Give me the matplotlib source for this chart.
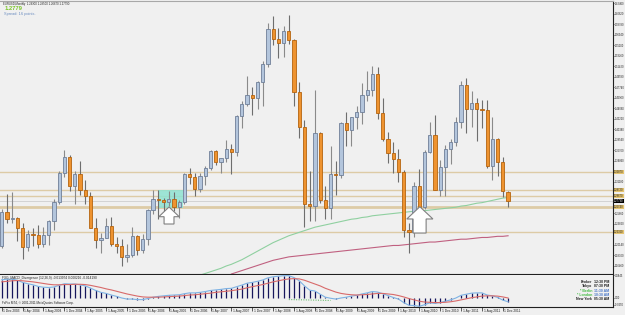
import matplotlib
matplotlib.use("Agg")
import matplotlib.pyplot as plt
from matplotlib.patches import Rectangle, Polygon

# ── données : EURUSD mensuel, déc 2003 -> jan 2012 ─────────────
opens = [1.1990, 1.2595, 1.2465, 1.2475, 1.2300, 1.1970, 1.2200, 1.2175, 1.2025, 1.2175, 1.2420, 1.2765, 1.3265,
         1.3555, 1.3045, 1.3255, 1.2965, 1.2870, 1.2305, 1.2100, 1.2125, 1.2340, 1.2025, 1.1990, 1.1790,
         1.1840, 1.2160, 1.1925, 1.2115, 1.2625, 1.2810, 1.2790, 1.2765, 1.2815, 1.2675, 1.2760, 1.3245,
         1.3195, 1.2990, 1.3225, 1.3355, 1.3650, 1.3455, 1.3540, 1.3690, 1.3640, 1.4265, 1.4485, 1.4630,
         1.4590, 1.4860, 1.5185, 1.5785, 1.5610, 1.5550, 1.5750, 1.5600, 1.4680, 1.4075, 1.2725, 1.2700,
         1.3975, 1.2800, 1.2660, 1.3250, 1.3230, 1.4150, 1.4030, 1.4250, 1.4330, 1.4640, 1.4720, 1.5010,
         1.4325, 1.3865, 1.3625, 1.3510, 1.3295, 1.2270, 1.2235, 1.3050, 1.2680, 1.3630, 1.3940, 1.2980,
         1.3380, 1.3690, 1.3805, 1.4160, 1.4805, 1.4395, 1.4500, 1.4390, 1.4375, 1.3385, 1.3865, 1.3455,
         1.2930]
highs = [1.2647, 1.2898, 1.2930, 1.2495, 1.2385, 1.2275, 1.2305, 1.2355, 1.2315, 1.2440, 1.2810, 1.3310, 1.3667,
         1.3580, 1.3300, 1.3480, 1.3140, 1.2935, 1.2475, 1.2225, 1.2480, 1.2500, 1.2155, 1.2115, 1.2030,
         1.2325, 1.2185, 1.2195, 1.2635, 1.2980, 1.2975, 1.2825, 1.2950, 1.2940, 1.2795, 1.3270, 1.3365,
         1.3270, 1.3270, 1.3385, 1.3680, 1.3680, 1.3535, 1.3850, 1.3785, 1.4280, 1.4530, 1.4965, 1.4770,
         1.4875, 1.5240, 1.5905, 1.6020, 1.5815, 1.5845, 1.6038, 1.5625, 1.4865, 1.4195, 1.3300, 1.4720,
         1.3990, 1.3050, 1.3740, 1.3485, 1.4165, 1.4340, 1.4255, 1.4445, 1.4845, 1.5060, 1.5145, 1.5135,
         1.4580, 1.3990, 1.3820, 1.3690, 1.3320, 1.2385, 1.3110, 1.3335, 1.3665, 1.4160, 1.4280, 1.3500,
         1.3760, 1.3860, 1.4250, 1.4880, 1.4940, 1.4700, 1.4580, 1.4550, 1.4550, 1.4245, 1.3875, 1.3550,
         1.2950]
lows = [1.1960, 1.2385, 1.2385, 1.2085, 1.1760, 1.1905, 1.1990, 1.1950, 1.1965, 1.2005, 1.2265, 1.2730, 1.3200,
        1.2955, 1.2735, 1.2880, 1.2735, 1.2300, 1.1950, 1.1870, 1.2125, 1.1985, 1.1870, 1.1640, 1.1710,
        1.1800, 1.1825, 1.1865, 1.2005, 1.2550, 1.2455, 1.2455, 1.2700, 1.2610, 1.2485, 1.2720, 1.3080,
        1.2865, 1.2935, 1.3055, 1.3330, 1.3405, 1.3265, 1.3470, 1.3260, 1.3570, 1.4055, 1.4440, 1.4290,
        1.4395, 1.4440, 1.5135, 1.5520, 1.5285, 1.5300, 1.5525, 1.4435, 1.3880, 1.2330, 1.2420, 1.2435,
        1.2745, 1.2455, 1.2455, 1.2890, 1.3180, 1.3745, 1.3750, 1.4045, 1.4130, 1.4530, 1.4615, 1.4215,
        1.3835, 1.3445, 1.3270, 1.3115, 1.2140, 1.1876, 1.2150, 1.2590, 1.2640, 1.3620, 1.2965, 1.2860,
        1.2860, 1.3430, 1.3750, 1.4055, 1.3965, 1.4070, 1.3835, 1.4050, 1.3360, 1.3145, 1.3210, 1.2855,
        1.2667]
closes = [1.2595, 1.2465, 1.2475, 1.2300, 1.1970, 1.2200, 1.2175, 1.2025, 1.2175, 1.2420, 1.2765, 1.3265, 1.3555,
          1.3045, 1.3255, 1.2965, 1.2870, 1.2305, 1.2100, 1.2125, 1.2340, 1.2025, 1.1990, 1.1790, 1.1840,
          1.2160, 1.1925, 1.2115, 1.2625, 1.2810, 1.2790, 1.2765, 1.2815, 1.2675, 1.2760, 1.3245, 1.3195,
          1.2990, 1.3225, 1.3355, 1.3650, 1.3455, 1.3540, 1.3690, 1.3640, 1.4265, 1.4485, 1.4630, 1.4590,
          1.4860, 1.5185, 1.5785, 1.5610, 1.5550, 1.5750, 1.5600, 1.4680, 1.4075, 1.2725, 1.2700, 1.3975,
          1.2800, 1.2660, 1.3250, 1.3230, 1.4150, 1.4030, 1.4250, 1.4330, 1.4640, 1.4720, 1.5010, 1.4325,
          1.3865, 1.3625, 1.3510, 1.3295, 1.2270, 1.2235, 1.3050, 1.2680, 1.3630, 1.3940, 1.2980, 1.3380,
          1.3690, 1.3805, 1.4160, 1.4805, 1.4395, 1.4500, 1.4390, 1.4375, 1.3385, 1.3865, 1.3455, 1.2960,
          1.2779]

# moyennes mobiles, à partir d'un indice de mois
ma_green_start = 36
ma_green = [1.136, 1.145, 1.148, 1.151, 1.154, 1.157, 1.160, 1.164, 1.167, 1.171, 1.175, 1.180, 1.185, 1.190,
            1.195, 1.200, 1.205, 1.209, 1.213, 1.217, 1.220, 1.223, 1.226, 1.229, 1.232, 1.234, 1.236, 1.238,
            1.240, 1.242, 1.244, 1.246, 1.247, 1.249, 1.250, 1.252, 1.253, 1.254, 1.255, 1.256, 1.257, 1.258,
            1.259, 1.260, 1.260, 1.261, 1.262, 1.263, 1.264, 1.265, 1.266, 1.267, 1.269, 1.270, 1.272, 1.274,
            1.275, 1.277, 1.279, 1.281, 1.283, 1.284]
ma_red_start = 44
ma_red = [1.150, 1.153, 1.156, 1.159, 1.162, 1.165, 1.168, 1.171, 1.174, 1.176, 1.178, 1.180, 1.181, 1.182,
          1.183, 1.184, 1.185, 1.186, 1.187, 1.188, 1.189, 1.190, 1.191, 1.192, 1.193, 1.194, 1.195, 1.196,
          1.197, 1.198, 1.199, 1.200, 1.200, 1.201, 1.202, 1.203, 1.204, 1.205, 1.206, 1.206, 1.207, 1.208,
          1.209, 1.210, 1.211, 1.211, 1.212, 1.213, 1.214, 1.214, 1.215, 1.216, 1.216, 1.217]

# niveaux horizontaux tracés
levels = [1.3287, 1.2972, 1.2867, 1.2674, 1.2236]
level_widths = [1, 1, 1, 2, 1]
bid = 1.2779

# indicateur MACD
macd = [0.068, 0.070, 0.070, 0.066, 0.058, 0.053, 0.049, 0.043, 0.040, 0.039, 0.041, 0.047, 0.053,
        0.052, 0.052, 0.049, 0.045, 0.037, 0.028, 0.021, 0.017, 0.011, 0.006, 0.000, -0.004,
        -0.004, -0.006, -0.006, -0.002, 0.003, 0.006, 0.008, 0.010, 0.011, 0.012, 0.016, 0.019,
        0.019, 0.021, 0.024, 0.028, 0.030, 0.032, 0.035, 0.036, 0.042, 0.048, 0.055, 0.058,
        0.062, 0.067, 0.075, 0.079, 0.081, 0.083, 0.083, 0.076, 0.064, 0.045, 0.029, 0.026,
        0.014, 0.003, -0.001, -0.004, 0.000, 0.003, 0.007, 0.010, 0.015, 0.019, 0.024, 0.022,
        0.016, 0.009, 0.002, -0.004, -0.017, -0.027, -0.028, -0.031, -0.025, -0.018, -0.020, -0.017,
        -0.012, -0.007, 0.000, 0.010, 0.014, 0.018, 0.019, 0.019, 0.011, 0.008, 0.002, -0.008,
        -0.014]
signal = [0.060, 0.062, 0.064, 0.065, 0.064, 0.062, 0.060, 0.057, 0.054, 0.051, 0.049, 0.049, 0.050,
          0.050, 0.051, 0.051, 0.050, 0.047, 0.043, 0.039, 0.034, 0.030, 0.025, 0.020, 0.015,
          0.011, 0.007, 0.004, 0.003, 0.003, 0.003, 0.004, 0.005, 0.006, 0.007, 0.009, 0.011,
          0.012, 0.014, 0.016, 0.018, 0.021, 0.023, 0.025, 0.027, 0.030, 0.033, 0.038, 0.042,
          0.046, 0.050, 0.055, 0.060, 0.064, 0.068, 0.071, 0.072, 0.071, 0.066, 0.059, 0.052,
          0.045, 0.036, 0.029, 0.022, 0.017, 0.014, 0.012, 0.011, 0.012, 0.013, 0.015, 0.017,
          0.017, 0.015, 0.013, 0.009, 0.004, -0.002, -0.007, -0.012, -0.015, -0.016, -0.017, -0.017,
          -0.016, -0.014, -0.011, -0.007, -0.003, 0.001, 0.004, 0.007, 0.008, 0.008, 0.007, 0.004,
          0.000]
# ligne de divergence (pointillés verts)
div_x = [55, 63]
div_y = [-0.006, -0.009]

price_ticks = [1.6246, 1.6062, 1.5878, 1.5694, 1.5510, 1.5326, 1.5142, 1.4958, 1.4774, 1.4590, 1.4406,
               1.4222, 1.4038, 1.3854, 1.3670, 1.3486, 1.3302, 1.3118, 1.2934, 1.2750, 1.2566, 1.2382,
               1.2198, 1.2014, 1.1830, 1.1646]
ind_ticks = [0.0845, 0.0, -0.0250]
ind_labels = ["0.0845", "0.00", "-0.0250"]
time_labels = ["1 Dec 2003", "1 Apr 2004", "1 Aug 2004", "1 Dec 2004", "1 Apr 2005", "1 Aug 2005",
               "1 Dec 2005", "1 Apr 2006", "1 Aug 2006", "1 Dec 2006", "1 Apr 2007", "1 Aug 2007",
               "1 Dec 2007", "1 Apr 2008", "1 Aug 2008", "1 Dec 2008", "1 Apr 2009", "1 Aug 2009",
               "1 Dec 2009", "1 Apr 2010", "1 Aug 2010", "1 Dec 2010", "1 Apr 2011", "1 Aug 2011",
               "1 Dec 2011"]
clock_names = ["Broker", "Tokyo", "* Berlin", "* London", "New York"]
clock_times = ["12:30 PM", "07:30 PM", "11:30 AM", "10:30 AM", "05:30 AM"]

# ── figure ────────────────────────────────────────────────
W, H = 625, 315
BG = "#F0F0F0"
TXT = "#202020"
FS_AX = 1.9
plt.rcParams['font.family'] = ['Liberation Sans', 'DejaVu Sans']
fig = plt.figure(figsize=(W / 100, H / 100), dpi=100, facecolor=BG)


def box(x0, y0, x1, y1):
    return [x0 / W, 1 - y1 / H, (x1 - x0) / W, (y1 - y0) / H]


ax = fig.add_axes(box(0, 1, 613, 274), facecolor=BG)
ax2 = fig.add_axes(box(0, 275, 613, 307), facecolor=BG, sharex=ax)
n = len(closes)
idx = list(range(n))
ax.set_xlim(-0.33, 117.1)
ax.set_ylim(1.1500, 1.6283)

# niveaux
for lv, lw in zip(levels, level_widths):
    ax.axhline(lv, color="#DDCBA6", lw=lw, zorder=1)
ax.axhline(bid, color="#D3D3D3", lw=0.7, zorder=1)

# rectangle + flèches
ax.add_patch(Rectangle((30.0, 1.2656), 4.8, 0.0316, facecolor="#8FE3D2", edgecolor="none",
                       alpha=0.85, zorder=1.5))
for (xa, xb, sa, sb, tip, base, bot) in [(30.1, 34.0, 31.1, 33.0, 1.2674, 1.2504, 1.2376),
                                         (77.6, 82.6, 78.8, 81.3, 1.2679, 1.2464, 1.2218)]:
    xm = (xa + xb) / 2
    pts = [(xm, tip), (xb, base), (sb, base), (sb, bot), (sa, bot), (sa, base), (xa, base)]
    ax.add_patch(Polygon(pts, closed=True, facecolor="white", edgecolor="#808080", lw=0.8, zorder=4))

# moyennes mobiles
ax.plot(range(ma_green_start, ma_green_start + len(ma_green)), ma_green, color="#8FD0A0", lw=0.8, zorder=2)
ax.plot(range(ma_red_start, ma_red_start + len(ma_red)), ma_red, color="#C06080", lw=0.8, zorder=2)

# bougies
for i, o, h, l, c in zip(idx, opens, highs, lows, closes):
    up = c >= o
    ax.vlines(i, l, h, color="#8A8A8A" if up else "#6E6E6E", lw=0.8, zorder=3)
    ax.bar(i, abs(c - o), bottom=min(o, c), width=0.62,
           color="#B3C5DC" if up else "#EE9330",
           edgecolor="#6F7F98" if up else "#B5640F", lw=0.6, zorder=3.5)

# axes (style MT4)
for a in (ax, ax2):
    a.spines["left"].set_visible(False)
    for s in ("right", "bottom"):
        a.spines[s].set_color(TXT)
        a.spines[s].set_linewidth(0.8)
    a.yaxis.tick_right()
    a.tick_params(axis="y", direction="out", length=1.0, width=0.5, colors=TXT,
                  labelsize=FS_AX, pad=0.3)
ax.spines["top"].set_color("#A8A8A8")
ax2.spines["top"].set_visible(False)
ax.tick_params(axis="x", bottom=False, labelbottom=False)


def ypix(p):
    return 201 - (p - bid) / 0.001752


marked = levels + [bid]
shown = [p for p in price_ticks if min(abs(ypix(p) - ypix(m)) for m in marked) > 4]
ax.set_yticks(shown)
ax.set_yticklabels([f"{p:.5f}" for p in shown])

ytr = ax.get_yaxis_transform()
for lv in levels:
    ax.text(1.002, lv, f"{lv:.5f}", transform=ytr, fontsize=FS_AX, va="center", ha="left",
            color=TXT, bbox=dict(boxstyle="square,pad=0.15", fc="#E4C36E", ec="none"), zorder=6)
ax.text(1.002, bid, f"{bid:.5f}", transform=ytr, fontsize=FS_AX, va="center", ha="left",
        color="white", bbox=dict(boxstyle="square,pad=0.15", fc="black", ec="none"), zorder=7)

# indicateur
ax2.set_ylim(-0.0335, 0.0855)
ax2.vlines(idx, 0, macd, color="#16165C", lw=0.9)
ax2.plot(idx, macd, color="#7DB2E4", lw=0.8)
ax2.plot(idx, signal, color="#D86A6A", lw=0.8)
ax2.plot(div_x, div_y, color="#4CAF50", lw=0.7, ls=(0, (1, 1.5)))
ax2.set_yticks(ind_ticks)
ax2.set_yticklabels(ind_labels)

tick_idx = list(range(0, 97, 4))
ax2.set_xticks(tick_idx)
ax2.set_xticklabels([])
ax2.tick_params(axis="x", direction="out", length=3, width=0.5, colors=TXT)
xtr = ax2.get_xaxis_transform()
for t, lab in zip(tick_idx, time_labels):
    ax2.text(t + 0.3, -0.13, lab, transform=xtr, fontsize=2.3, ha="left", va="center", color=TXT)

fig.text(2 / W, 1 - 277.5 / H, "FXG_MACD_Divergence (12,26,9) -0.013974 0.000216 -0.014190",
         fontsize=2.3, va="center", ha="left", color=TXT)
fig.text(2 / W, 1 - 303 / H, "FxPro MT4, © 2001-2011 MetaQuotes Software Corp.",
         fontsize=2.2, va="center", ha="left", color=TXT)

# en-tête
fig.text(3 / W, 1 - 3.5 / H, "EURUSD,Monthly  1.29300 1.29500 1.26670 1.27790", fontsize=2.0,
         va="center", ha="left", color=TXT)
fig.text(5 / W, 1 - 8 / H, "1.2779", fontsize=4.2, fontweight="bold", va="center", ha="left",
         color="#7BC52A")
fig.text(4 / W, 1 - 14 / H, "Spread: 16 points.", fontsize=2.8, va="center", ha="left", color="#6A8CC0")

# horloges
for k, (nm, tm) in enumerate(zip(clock_names, clock_times)):
    yk = 1 - (282 + k * 4.3) / H
    green = nm.startswith("*")
    fig.text(592 / W, yk, nm, fontsize=2.5, ha="right", va="center",
             color="#3DBA3D" if green else TXT, fontweight="bold")
    fig.text(594 / W, yk, tm, fontsize=2.5, ha="left", va="center",
             color="#4A78C8" if green else TXT, fontweight="bold")

fig.savefig("out.png", dpi=100, facecolor=BG)
